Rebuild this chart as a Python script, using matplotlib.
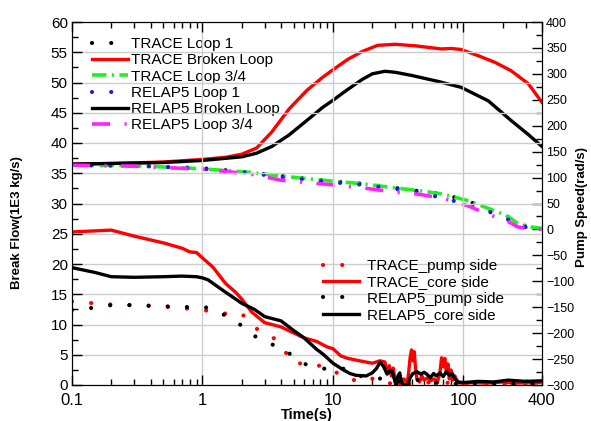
import numpy as np
import matplotlib
matplotlib.use('Agg')
import matplotlib.pyplot as plt
from matplotlib.ticker import LogLocator, MultipleLocator, FixedLocator, FixedFormatter

plt.rcParams['font.family'] = ['Liberation Sans', 'DejaVu Sans']

# Break flow (left axis, 1E3 kg/s)
t_trace_core = [0.1, 0.2, 0.3, 0.5, 0.7, 0.8, 0.9, 1.0, 1.2, 1.5, 1.8, 2.0, 2.4, 3.0, 4.0, 5.0,
                6.0, 7.5, 9, 10, 11.5, 13, 16, 20, 23, 25, 26, 27, 28, 29, 30, 31, 33, 35, 37,
                38, 39, 40, 41, 42, 43, 44, 46, 48, 50, 53, 56, 60, 63, 66, 68, 70, 72, 74, 76,
                78, 80, 83, 86, 90, 95, 120, 150, 200, 250, 300, 350, 400]
trace_core = [25.3, 25.6, 24.6, 23.5, 22.6, 22.0, 21.9, 21.0, 19.5, 16.8, 15.3, 14.2, 12.0, 10.3,
              9.6, 8.6, 7.8, 7.2, 6.3, 6.0, 4.8, 4.4, 4.0, 3.6, 4.0, 3.8, 2.0, 3.2, 1.5, 2.8,
              0.5, 0.0, 0.2, 1.0, 0.3, 2.0, 4.5, 5.8, 4.0, 5.5, 2.5, 1.0, 0.5, 1.5, 0.8, 1.2,
              0.7, 1.0, 0.4, 2.0, 4.5, 3.0, 4.4, 2.0, 3.5, 1.0, 2.5, 0.8, 1.5, 0.5, 0.3, 0.4,
              0.3, 0.5, 0.3, 0.4, 0.3, 0.5]

t_relap_core = [0.1, 0.15, 0.2, 0.3, 0.5, 0.7, 0.9, 1.0, 1.1, 1.4, 2.0, 2.5, 3.0, 4.0, 5.0, 6,
                7.4, 8.5, 10, 12, 13.5, 15, 18, 20, 21.5, 23, 24.5, 26, 27.5, 28.5, 29.5, 30.5,
                31.5, 32.5, 33.5, 35, 37.5, 39, 41, 44, 47, 50, 53, 56, 59, 62, 66, 70, 74, 78,
                82, 86, 91, 100, 130, 170, 220, 300, 400]
relap_core = [19.4, 18.6, 17.9, 17.8, 17.9, 18.0, 17.9, 17.7, 17.4, 15.8, 13.5, 12.5, 11.3, 10.6,
              9.0, 7.8, 6.0, 5.0, 3.6, 2.5, 1.9, 1.6, 1.5, 2.0, 2.7, 3.8, 3.0, 1.8, 2.4, 2.2,
              1.0, 0.0, 1.5, 2.0, 0.5, 0.0, 0.0, 1.2, 1.9, 2.2, 1.8, 2.1, 1.7, 1.2, 1.9, 1.5,
              2.0, 1.4, 2.2, 1.6, 1.9, 1.0, 0.5, 0.4, 0.6, 0.5, 0.8, 0.6, 0.7]

t_trace_pump = [0.1, 0.15, 0.2, 0.3, 0.5, 0.7, 1.0, 1.5, 2.0, 2.5, 3.5, 4.2, 5, 7, 10, 12, 17,
                21, 25, 40, 60, 100, 200, 400]
trace_pump = [13.8, 13.5, 13.3, 13.2, 13.0, 12.7, 12.4, 11.8, 11.8, 9.5, 7.8, 5.8, 3.6, 3.5, 2.5,
              1.2, 0.5, 1.2, 0.3, 0.2, 0.5, 0.2, 0.3, 0.3]

t_relap_pump = [0.1, 0.15, 0.2, 0.3, 0.5, 0.7, 1.1, 1.5, 2.0, 2.5, 3.5, 4.5, 6, 8.5, 11.7, 16,
                21.5, 30, 42, 50, 80, 150, 400]
relap_pump = [12.4, 12.8, 13.2, 13.2, 13.0, 12.9, 12.8, 11.5, 9.8, 8.1, 6.6, 5.4, 3.5, 2.7, 2.8,
              1.5, 1.2, 0.5, 1.0, 0.5, 0.2, 0.2, 0.2]

# Pump speed (right axis, rad/s)
t_broken = [0.1, 0.2, 0.5, 1.0, 1.5, 2.0, 2.6, 3.4, 4.6, 6.3, 8.3, 10, 13, 16.7, 22, 30, 43, 54,
            68, 80, 96, 130, 175, 232, 314, 400]
trace_broken = [126, 127, 130, 135, 139, 145, 157, 188, 232, 268, 293, 308, 328, 343, 355, 357,
                354, 351, 348, 349, 347, 335, 322, 306, 281, 245]
t_relap_broken = [0.1, 0.5, 1.0, 2.0, 2.6, 3.4, 4.6, 6.3, 8.3, 10, 12.5, 16.7, 20, 25, 30, 40,
                  65, 96, 155, 232, 314, 400]
relap_broken = [126, 129, 133, 140, 147, 160, 182, 210, 235, 249, 267, 289, 300, 305, 303, 297,
                285, 274, 248, 210, 183, 160]

t_loop = [0.1, 0.3, 1, 2.3, 4, 11, 17, 30, 45, 70, 110, 150, 210, 260, 320, 400]
trace_loop1 = [124, 123, 118, 110, 103, 92, 88, 80, 74, 68, 54, 40, 28, 10, 5, 2]
trace_loop34 = [124, 123, 117, 110, 103, 92, 88, 80, 75, 68, 55, 42, 28, 12, 5, 2]
relap_loop1 = [124, 123, 117, 109, 101, 90, 86, 78, 72, 60, 48, 36, 22, 8, 3, 1]
relap_loop34 = [124, 122, 116, 107, 95, 85, 80, 72, 68, 60, 45, 30, 18, 5, 1, 0]

fig = plt.figure(figsize=(5.91, 4.21), dpi=100)
ax = fig.add_axes([72/591, 1 - 385/421, (542 - 72)/591, (385 - 22)/421])
ax2 = ax.twinx()

dots = (0, (0.01, 4.6))
ax.plot(t_trace_pump, trace_pump, color='red', lw=3, ls=dots, dash_capstyle='round',
        label='TRACE_pump side')
ax.plot(t_trace_core, trace_core, color='red', lw=2.4, label='TRACE_core side')
ax.plot(t_relap_pump, relap_pump, color='black', lw=3, ls=dots, dash_capstyle='round',
        label='RELAP5_pump side')
ax.plot(t_relap_core, relap_core, color='black', lw=2.4, label='RELAP5_core side')

ax2.plot(t_loop, trace_loop1, color='black', lw=3, ls=dots, dash_capstyle='round',
         label='TRACE Loop 1')
ax2.plot(t_broken, trace_broken, color='red', lw=2.4, label='TRACE Broken Loop')
ax2.plot(t_loop, trace_loop34, color='#22ee22', lw=2.6, ls=(0, (4, 1.5, 0.6, 1.5)),
         label='TRACE Loop 3/4')
ax2.plot(t_loop, relap_loop1, color='#1a1aff', lw=3, ls=dots, dash_capstyle='round',
         label='RELAP5 Loop 1')
ax2.plot(t_relap_broken, relap_broken, color='black', lw=2.4, label='RELAP5 Broken Loop')
ax2.plot(t_loop, relap_loop34, color='#ff22ff', lw=2.6, ls=(0, (5, 4, 0.6, 4)),
         label='RELAP5 Loop 3/4')

ax.set_xscale('log')
ax.set_xlim(0.1, 400)
ax.set_ylim(0, 60)
ax2.set_ylim(-300, 400)

ax.xaxis.set_major_locator(FixedLocator([0.1, 1, 10, 100, 400]))
ax.xaxis.set_major_formatter(FixedFormatter(['0.1', '1', '10', '100', '400']))
ax.xaxis.set_minor_locator(LogLocator(base=10, subs=np.arange(2, 10)))
ax.yaxis.set_major_locator(MultipleLocator(5))
ax.yaxis.set_minor_locator(MultipleLocator(2.5))
ax2.yaxis.set_major_locator(MultipleLocator(50))
ax2.yaxis.set_minor_locator(MultipleLocator(25))

ax.grid(True, which='major', axis='y', color='#cccccc', lw=1)
for xv in [1, 10, 100]:
    ax.axvline(xv, color='#cccccc', lw=1, zorder=0)
ax.set_axisbelow(True)

ax.tick_params(which='both', direction='in', top=True, pad=3)
ax.tick_params(axis='y', labelsize=11)
ax.tick_params(axis='x', labelsize=12, pad=6)
ax.tick_params(which='major', length=7, width=1)
ax.tick_params(which='minor', length=4, width=1)
ax2.tick_params(which='both', direction='in', labelsize=9, pad=3)
ax2.tick_params(which='major', length=7, width=1)
ax2.tick_params(which='minor', length=4, width=1)

ax.set_xlabel('Time(s)', fontsize=10.5, fontweight='bold', labelpad=0)
fig.text(17/591, 1 - 223/421, 'Break Flow(1E3 kg/s)', rotation=90, fontsize=9.5,
         fontweight='bold', ha='center', va='center')
fig.text(582/591, 1 - 207/421, 'Pump Speed(rad/s)', rotation=90, fontsize=9.5,
         fontweight='bold', ha='center', va='center')

leg1 = ax2.legend(loc='upper left', bbox_to_anchor=(92/591, 1 - 37/421),
                  bbox_transform=fig.transFigure, frameon=False, fontsize=11,
                  handlelength=2.35, handletextpad=0.2, labelspacing=0.15,
                  borderpad=0, borderaxespad=0)
leg2 = ax.legend(loc='upper left', bbox_to_anchor=(323/591, 1 - 259/421),
                 bbox_transform=fig.transFigure, frameon=False, fontsize=11,
                 handlelength=2.35, handletextpad=0.5, labelspacing=0.15,
                 borderpad=0, borderaxespad=0)
ax.set_zorder(ax2.get_zorder() + 1)
ax.patch.set_visible(False)

fig.savefig('out.png', dpi=100)
